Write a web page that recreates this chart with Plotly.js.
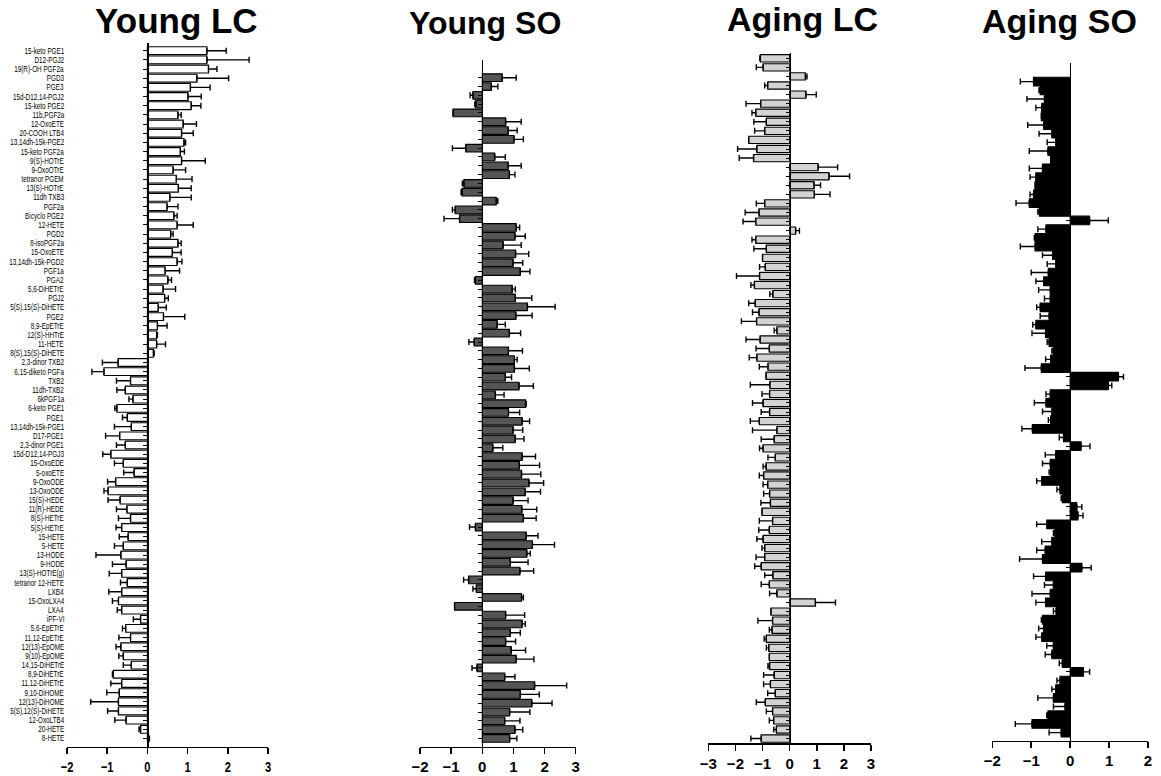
<!DOCTYPE html>
<html>
<head>
<meta charset="utf-8">
<script src="https://cdn.plot.ly/plotly-3.0.1.min.js"></script>
<style>html,body{margin:0;padding:0;background:#fff;}#chart{width:1161px;height:776px;}</style>
</head>
<body>
<div id="chart"></div>
<script>
// ---------- DATA ----------
const categories = [
  "15-keto PGE1","D12-PGJ2","19(R)-OH PGF2a","PGD3","PGE3","15d-D12,14-PGJ2","15-keto PGE2","11b,PGF2a",
  "12-OxoETE","20-COOH LTB4","13,14dh-15k-PGE2","15-keto PGF2a","9(S)-HOTrE","9-OxoOTrE","tetranor PGEM",
  "13(S)-HOTrE","11dh TXB3","PGF2a","Bicyclo PGE2","12-HETE","PGD2","8-isoPGF2a","15-OxoETE",
  "13,14dh-15k-PGD2","PGF1a","PGA2","5,6-DiHETrE","PGJ2","5(S),15(S)-DiHETE","PGE2","8,9-EpETrE",
  "12(S)-HHTrE","11-HETE","8(S),15(S)-DiHETE","2,3-dinor TXB2","6,15-diketo PGFa","TXB2","11dh-TXB2",
  "6kPGF1a","6-keto PGE1","PGE1","13,14dh-15k-PGE1","D17-PGE1","2,3-dinor PGE1","15d-D12,14-PGJ3",
  "15-OxoEDE","5-oxoETE","9-OxoODE","13-OxoODE","15(S)-HEDE","11(R)-HEDE","8(S)-HETrE","5(S)-HETrE",
  "15-HETE","5-HETE","13-HODE","9-HODE","13(S)-HOTrE(g)","tetranor 12-HETE","LXB4","15-OxoLXA4","LXA4",
  "iPF-VI","5,6-EpETrE","11,12-EpETrE","12(13)-EpOME","9(10)-EpOME","14,15-DiHETrE","8,9-DiHETrE",
  "11,12-DiHETrE","9,10-DiHOME","12(13)-DiHOME","5(S),12(S)-DiHETE","12-OxoLTB4","20-HETE","8-HETE"
];

const youngLC = [1.48,1.48,1.52,1.23,1.07,1.01,1.09,0.76,0.89,0.85,0.91,0.82,0.85,0.64,0.72,0.77,0.56,0.49,0.66,0.74,
  0.58,0.76,0.62,0.74,0.44,0.51,0.39,0.43,0.27,0.40,0.25,0.23,0.23,0.15,-0.73,-1.08,-0.42,-0.55,-0.36,-0.76,
  -0.50,-0.40,-0.69,-0.55,-0.91,-0.60,-0.33,-0.79,-0.98,-0.68,-0.51,-0.42,-0.64,-0.48,-0.60,-0.66,-0.53,-0.64,-0.50,-0.64,
  -0.72,-0.64,-0.17,-0.54,-0.42,-0.66,-0.60,-0.40,-0.85,-0.64,-0.70,-0.72,-0.72,-0.53,-0.17,0.03];
const youngLCsem = [0.48,1.05,0.21,0.79,0.49,0.33,0.24,0.08,0.33,0.29,0.04,0.10,0.59,0.31,0.39,0.32,0.53,0.27,0.08,0.40,
  0.06,0.08,0.22,0.12,0.36,0.09,0.31,0.09,0.20,0.53,0.24,0.02,0.22,0.02,0.39,0.30,0.35,0.21,0.10,0.05,
  0.12,0.42,0.35,0.22,0.20,0.22,0.26,0.20,0.10,0.30,0.26,0.30,0.14,0.22,0.22,0.62,0.34,0.31,0.17,0.32,
  0.15,0.11,0.18,0.08,0.29,0.12,0.11,0.20,0.02,0.27,0.31,0.69,0.27,0.28,0.04,0.02];

const youngSO = [0.64,0.29,-0.30,-0.21,-0.94,0.75,0.83,1.02,-0.53,0.40,0.83,0.87,-0.59,-0.65,0.45,-0.87,-0.73,1.09,1.05,0.67,
  1.07,0.99,1.22,-0.22,0.96,1.06,1.45,1.08,0.48,0.87,-0.26,0.84,1.03,1.03,0.74,1.18,0.42,1.39,0.84,1.28,
  0.99,1.06,0.34,1.28,1.19,1.26,1.50,1.38,0.99,1.27,1.32,-0.22,1.41,1.61,1.43,0.90,1.21,-0.44,-0.19,1.26,
  -0.89,0.75,1.28,0.90,0.75,0.93,1.09,-0.17,0.72,1.68,1.22,1.59,0.88,0.72,1.05,0.88];
const youngSOsem = [0.45,0.21,0.09,0.03,0.00,0.50,0.29,0.30,0.43,0.34,0.42,0.18,0.05,0.03,0.05,0.09,0.50,0.11,0.33,0.58,
  0.42,0.31,0.31,0.03,0.10,0.53,0.89,0.52,0.26,0.36,0.17,0.45,0.09,0.48,0.20,0.46,0.28,0.02,0.36,0.24,
  0.31,0.28,0.32,0.43,0.65,0.62,0.47,0.49,0.48,0.48,0.41,0.19,0.38,0.71,0.11,0.57,0.44,0.16,0.11,0.06,
  0.00,0.61,0.10,0.32,0.32,0.46,0.57,0.16,0.33,1.03,0.61,0.65,0.65,0.49,0.25,0.23];

const agingLC = [-1.08,-0.98,0.58,-0.81,0.60,-1.07,-1.25,-0.86,-0.92,-1.51,-1.21,-1.33,1.05,1.45,0.90,0.91,-0.92,-1.13,-1.25,0.22,
  -1.25,-0.86,-1.00,-0.90,-1.11,-1.30,-0.62,-1.27,-1.13,-1.22,-0.47,-1.09,-0.75,-1.21,-0.80,-0.87,-0.73,-0.74,-0.98,-0.74,
  -1.12,-0.47,-0.57,-0.98,-0.53,-0.87,-0.96,-0.81,-0.74,-0.71,-1.02,-0.63,-0.75,-0.98,-0.92,-0.92,-1.05,-0.62,-0.75,-0.47,
  0.95,-0.69,-0.63,-0.65,-0.86,-0.77,-0.75,-0.74,-0.57,-0.71,-0.53,-0.90,-0.63,-0.59,-0.49,-1.05];
const agingLCsem = [0.02,0.25,0.06,0.11,0.38,0.54,0.14,0.46,0.37,0.00,0.71,0.53,0.72,0.76,0.24,0.58,0.31,0.51,0.47,0.14,
  0.14,0.46,0.00,0.21,0.85,0.13,0.11,0.24,0.24,0.56,0.10,0.52,0.49,0.28,0.32,0.00,0.72,0.28,0.39,0.31,
  0.33,0.90,0.48,0.13,0.27,0.11,0.16,0.17,0.22,0.35,0.00,0.49,0.39,0.23,0.10,0.32,0.24,0.30,0.30,0.27,
  0.74,0.00,0.54,0.10,0.08,0.09,0.00,0.06,0.39,0.25,0.28,0.33,0.23,0.16,0.10,0.38];

const agingSO = [-0.94,-0.77,-0.66,-0.73,-0.74,-0.68,-0.47,-0.37,-0.57,-0.50,-0.71,-0.88,-0.90,-0.94,-1.05,-0.79,0.50,-0.62,-0.90,-0.90,
  -0.45,-0.37,-0.56,-0.68,-0.51,-0.51,-0.77,-0.54,-0.88,-0.63,-0.54,-0.43,-0.50,-0.74,1.24,0.98,-0.51,-0.62,-0.47,-0.50,
  -0.97,-0.17,0.28,-0.37,-0.51,-0.50,-0.73,-0.26,-0.20,0.17,0.20,-0.60,-0.39,-0.47,-0.64,-0.71,0.30,-0.63,-0.43,-0.51,
  -0.63,-0.36,-0.71,-0.68,-0.73,-0.43,-0.47,-0.20,0.34,-0.26,-0.37,-0.43,-0.13,-0.57,-0.98,-0.23];
const agingSOsem = [0.34,0.03,0.45,0.15,0.00,0.41,0.33,0.22,0.48,0.00,0.34,0.15,0.00,0.09,0.34,0.04,0.48,0.21,0.02,0.38,
  0.26,0.22,0.44,0.20,0.30,0.15,0.09,0.23,0.08,0.35,0.05,0.04,0.13,0.42,0.13,0.09,0.11,0.30,0.24,0.06,
  0.27,0.11,0.23,0.27,0.20,0.04,0.13,0.08,0.03,0.13,0.13,0.26,0.04,0.26,0.22,0.59,0.24,0.31,0.23,0.47,
  0.25,0.07,0.03,0.13,0.15,0.17,0.17,0.08,0.16,0.08,0.10,0.40,0.30,0.03,0.43,0.31];

const panelTitles = ["Young LC","Young SO","Aging LC","Aging SO"];
const xRanges = [[-2,3],[-2,3],[-3,3],[-2,2]];

// ---------- LAYOUT GEOMETRY (pixels) ----------
const W = 1161, H = 776;
const SANS = "'Liberation Sans',Arial,sans-serif";
const panels = [
  {vals: youngLC, sem: youngLCsem, fill:'#ffffff', x0:67,   x1:268,   top:43, bot:746.7, row1:50.7, step:9.17, bw:0.85, tx:176,  ty:20, ts:35},
  {vals: youngSO, sem: youngSOsem, fill:'#555555', x0:420,  x1:575.7, top:60, bot:746.7, row1:77.7, step:8.81, bw:0.87, tx:485,  ty:23, ts:32},
  {vals: agingLC, sem: agingLCsem, fill:'#d3d3d3', x0:708.3,x1:871,   top:53, bot:743.3, row1:58.3, step:9.07, bw:0.80, tx:802,  ty:19, ts:34},
  {vals: agingSO, sem: agingSOsem, fill:'#000000', x0:992.3,x1:1148,  top:63, bot:740.7, row1:81.6, step:8.68, bw:1.00, tx:1059, ty:21, ts:34}
];

const rows = categories.map((_, i) => i + 1);
const traces = [];
const layout = {
  width: W, height: H,
  margin: {l:0, r:0, t:0, b:0},
  paper_bgcolor: '#ffffff', plot_bgcolor: 'rgba(0,0,0,0)',
  showlegend: false,
  annotations: []
};

panels.forEach((p, k) => {
  const n = k + 1;
  const xs = n === 1 ? '' : String(n);
  const r = xRanges[k];
  const zeroPx = p.x0 + (0 - r[0]) / (r[1] - r[0]) * (p.x1 - p.x0);
  const nTop = 1 - (p.row1 - p.top) / p.step;
  const nBot = 1 + (p.bot - p.row1) / p.step;

  traces.push({
    type: 'bar', orientation: 'h',
    x: p.vals, y: rows,
    xaxis: 'x' + xs, yaxis: 'y' + xs,
    width: p.bw,
    marker: {color: p.fill, line: {color: '#000000', width: 1.1}},
    error_x: {
      type: 'data', symmetric: false,
      array: p.vals.map((v, i) => v >= 0 ? p.sem[i] : 0),
      arrayminus: p.vals.map((v, i) => v < 0 ? p.sem[i] : 0),
      color: '#000000', thickness: 1.4, width: 3
    },
    hovertext: categories, hoverinfo: 'text+x'
  });

  layout['xaxis' + xs] = {
    domain: [p.x0 / W, p.x1 / W], range: r, anchor: 'y' + xs,
    showline: true, linecolor: '#000', linewidth: 1.5,
    ticks: 'outside', ticklen: 6, tickwidth: 1.5, tickcolor: '#000',
    tick0: 0, dtick: 1, showgrid: false,
    zeroline: false, fixedrange: true,
    tickfont: {family: SANS, size: 15, weight: 'bold', color: '#000'}
  };
  layout['yaxis' + xs] = {
    domain: [1 - p.bot / H, 1 - p.top / H], range: [nBot, nTop],
    anchor: 'free', position: zeroPx / W,
    showline: true, linecolor: '#000', linewidth: 1.2,
    ticks: 'outside', ticklen: 4, tickwidth: 1, tickcolor: '#000',
    tickvals: rows, showticklabels: false,
    showgrid: false, zeroline: false, fixedrange: true
  };

  layout.annotations.push({
    text: '<b>' + panelTitles[k] + '</b>', xref: 'paper', yref: 'paper',
    x: p.tx / W, y: 1 - p.ty / H, xanchor: 'center', yanchor: 'middle',
    showarrow: false, font: {family: SANS, size: p.ts, color: '#000'}
  });
});

// category labels for first panel (left side)
categories.forEach((c, i) => {
  layout.annotations.push({
    text: c, xref: 'paper', yref: 'y',
    x: 66 / W, y: rows[i], xanchor: 'right', yanchor: 'middle',
    showarrow: false, font: {family: SANS, size: 8.8, color: '#000'}
  });
});

// horizontal condensing to mimic the narrow typeface of the original
function condense(el, s, anchor) {
  const b = el.getBBox();
  const ax = anchor === 'right' ? b.x + b.width : b.x + b.width / 2;
  const prev = el.getAttribute('transform') || '';
  el.setAttribute('transform', prev + ' translate(' + ax + ',0) scale(' + s + ',1) translate(' + (-ax) + ',0)');
}

Plotly.newPlot('chart', traces, layout, {displayModeBar: false, staticPlot: true}).then(gd => {
  gd.querySelectorAll('g.annotation').forEach(g => {
    const idx = +g.getAttribute('data-index');
    if (idx >= panelTitles.length) {
      const t = g.querySelector('text.annotation-text');
      if (t) condense(t, 0.72, 'right');
    }
  });
  gd.querySelectorAll('g.xtick text').forEach(t => condense(t, 0.74, 'center'));
});
</script>
</body>
</html>
